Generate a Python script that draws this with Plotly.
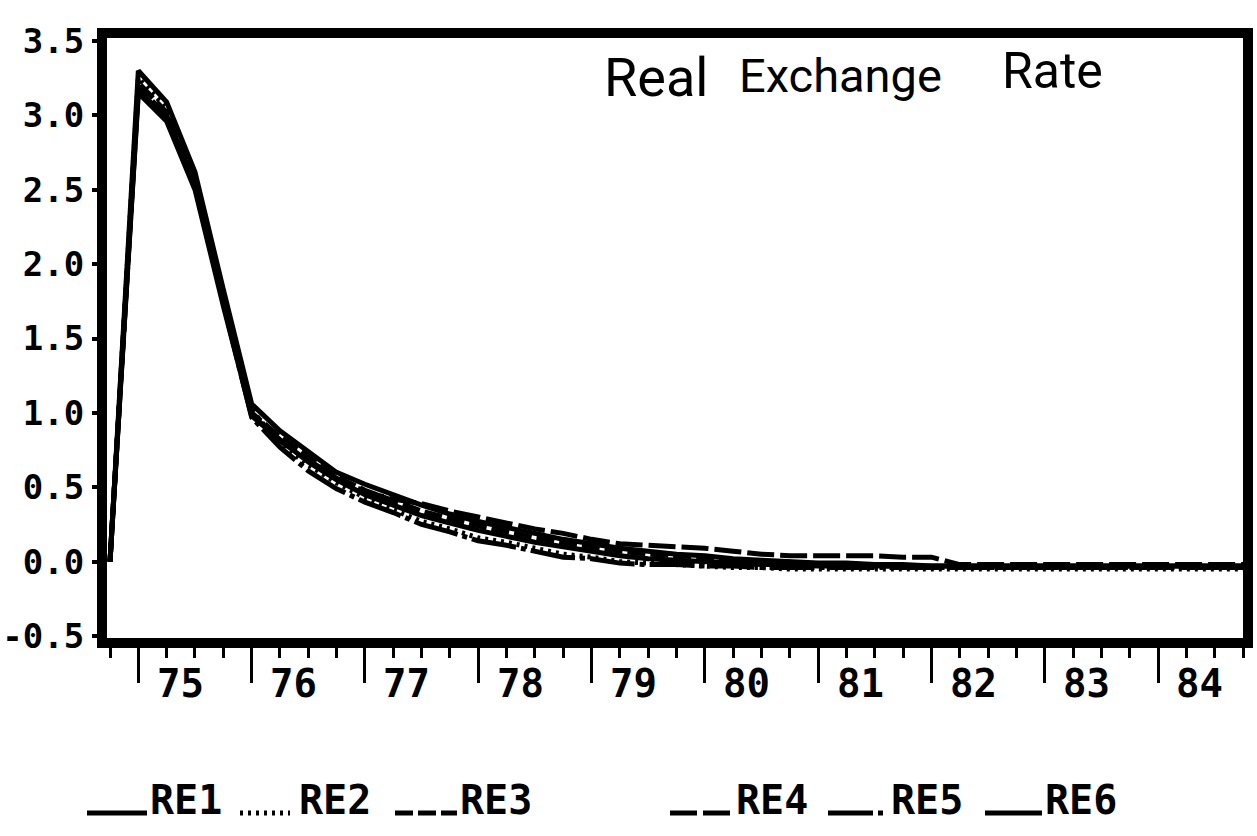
import plotly.graph_objects as go

# Quarterly observations, 1974Q4 through 1984Q4 (decimal years, quarter start)
quarters = [1974.75 + 0.25 * i for i in range(41)]

# Simulated real exchange rate paths for six scenarios
re1 = [0.00, 3.30, 3.09, 2.62, 1.83, 1.06, 0.88, 0.74, 0.60, 0.52,
       0.45, 0.38, 0.32, 0.27, 0.23, 0.19, 0.15, 0.12, 0.09, 0.07,
       0.05, 0.04, 0.02, 0.01, 0.00, -0.01, -0.01, -0.02, -0.02, -0.03,
       -0.03, -0.03, -0.03, -0.03, -0.03, -0.03, -0.03, -0.03, -0.03, -0.03, -0.03]
re2 = [0.00, 3.25, 3.05, 2.58, 1.79, 1.02, 0.79, 0.65, 0.53, 0.43,
       0.35, 0.27, 0.22, 0.16, 0.13, 0.09, 0.05, 0.03, 0.00, -0.01,
       -0.02, -0.03, -0.04, -0.04, -0.05, -0.05, -0.05, -0.05, -0.05, -0.05,
       -0.05, -0.05, -0.05, -0.05, -0.05, -0.05, -0.05, -0.05, -0.05, -0.05, -0.05]
re3 = [0.00, 3.22, 3.02, 2.56, 1.77, 1.00, 0.84, 0.70, 0.57, 0.48,
       0.41, 0.34, 0.29, 0.24, 0.20, 0.16, 0.13, 0.10, 0.07, 0.05,
       0.04, 0.03, 0.01, 0.00, -0.01, -0.02, -0.02, -0.03, -0.03, -0.04,
       -0.04, -0.04, -0.04, -0.04, -0.04, -0.04, -0.04, -0.04, -0.04, -0.04, -0.04]
re4 = [0.00, 3.19, 3.00, 2.54, 1.76, 0.99, 0.81, 0.68, 0.56, 0.47,
       0.42, 0.39, 0.34, 0.30, 0.26, 0.22, 0.19, 0.15, 0.12, 0.11,
       0.10, 0.09, 0.07, 0.05, 0.04, 0.04, 0.04, 0.04, 0.03, 0.03,
       -0.02, -0.02, -0.02, -0.02, -0.02, -0.02, -0.02, -0.02, -0.02, -0.02, -0.02]
re5 = [0.00, 3.17, 2.98, 2.52, 1.74, 0.97, 0.77, 0.61, 0.49, 0.40,
       0.33, 0.25, 0.20, 0.14, 0.11, 0.07, 0.03, 0.02, -0.01, -0.02,
       -0.02, -0.03, -0.03, -0.04, -0.04, -0.04, -0.04, -0.04, -0.04, -0.04,
       -0.04, -0.04, -0.04, -0.04, -0.04, -0.04, -0.04, -0.04, -0.04, -0.04, -0.04]
re6 = [0.00, 3.15, 2.96, 2.50, 1.72, 0.98, 0.82, 0.67, 0.55, 0.45,
       0.38, 0.31, 0.26, 0.21, 0.17, 0.13, 0.10, 0.07, 0.04, 0.02,
       0.01, 0.00, -0.01, -0.02, -0.02, -0.03, -0.03, -0.03, -0.03, -0.03,
       -0.03, -0.03, -0.03, -0.03, -0.03, -0.03, -0.03, -0.03, -0.03, -0.03, -0.03]

series_names = ["RE1", "RE2", "RE3", "RE4", "RE5", "RE6"]
series_values = [re1, re2, re3, re4, re5, re6]
series_dash = ["solid", "3px,5px", "18px,5px", "27px,6px", "45px,5px,5px,5px", "solid"]

year_ticks = list(range(1975, 1985))
year_labels = [str(y % 100) for y in year_ticks]
y_ticks = [-0.5, 0.0, 0.5, 1.0, 1.5, 2.0, 2.5, 3.0, 3.5]
y_labels = [f"{v:.1f}" for v in y_ticks]

W, H = 1257, 836
L, R, T, B = 102, 1248, 33, 643


def px_x(px):
    return (px - L) / (R - L)


def px_y(py):
    return (B - py) / (B - T)


MONO = "DejaVu Sans Mono, Liberation Mono, monospace"
HAND = "Roboto, Lato, sans-serif"
INK = "black"

fig = go.Figure()
for name, vals, dash in zip(series_names, series_values, series_dash):
    fig.add_trace(go.Scatter(
        x=quarters, y=vals, name=name, mode="lines",
        line=dict(color=INK, width=5, dash=dash),
        showlegend=False,
    ))

# Frame around the plotting area
shapes = [dict(type="rect", xref="paper", yref="paper", x0=0, x1=1, y0=0, y1=1,
               line=dict(color=INK, width=10), layer="above")]

annotations = []

# Year labels, set off to the right of each year's long tick
for yr, lab in zip(year_ticks, year_labels):
    annotations.append(dict(text=lab, xref="x", yref="paper",
                            x=yr + 0.37, y=px_y(659), xanchor="center", yanchor="top",
                            showarrow=False,
                            font=dict(family=MONO, size=39, color=INK, weight="bold")))

# Hand-placed legend row beneath the axis
legend_items = [  # (line start px, line end px, label left px)
    (87, 147, 148), (240, 290, 297), (395, 457, 458),
    (670, 730, 734), (828, 884, 889), (985, 1042, 1043),
]
for (x0, x1, tx), name, dash in zip(legend_items, series_names, series_dash):
    shapes.append(dict(type="line", xref="paper", yref="paper",
                       x0=px_x(x0), x1=px_x(x1), y0=px_y(813), y1=px_y(813),
                       line=dict(color=INK, width=5, dash=dash)))
    annotations.append(dict(text=name, xref="paper", yref="paper",
                            x=px_x(tx), y=px_y(800), xanchor="left", yanchor="middle",
                            showarrow=False,
                            font=dict(family=MONO, size=40, color=INK, weight="bold")))

# Caption inside the frame
for word, cx, cy, sz in [("Real", 656, 77, 54), ("Exchange", 840, 75, 47), ("Rate", 1052, 71, 50)]:
    annotations.append(dict(text=word, xref="paper", yref="paper",
                            x=px_x(cx), y=px_y(cy), xanchor="center", yanchor="middle",
                            showarrow=False,
                            font=dict(family=HAND, size=sz, color=INK)))

x_range = [quarters[0] - 0.25 * 8 / 28.325, quarters[-1] + 0.25 * 5 / 28.325]

fig.update_layout(
    width=W, height=H,
    margin=dict(l=L, r=W - R, t=T, b=H - B, pad=0, autoexpand=False),
    paper_bgcolor="white", plot_bgcolor="white",
    shapes=shapes, annotations=annotations,
    xaxis=dict(
        range=x_range, tickmode="array", tickvals=year_ticks,
        ticks="outside", ticklen=39, tickwidth=3, tickcolor=INK,
        showticklabels=False, showgrid=False, zeroline=False, showline=False,
        automargin=False,
        minor=dict(tickvals=quarters, ticks="outside", ticklen=14, tickwidth=3,
                   tickcolor=INK, showgrid=False),
    ),
    yaxis=dict(
        range=[-0.547, 3.554], tickmode="array", tickvals=y_ticks, ticktext=y_labels,
        ticks="outside", ticklen=9, tickwidth=4, tickcolor=INK,
        showgrid=False, zeroline=False, showline=False, automargin=False,
        ticklabelstandoff=1,
        tickfont=dict(family=MONO, size=34, color=INK, weight="bold"),
    ),
)

fig.write_html("out.html")
